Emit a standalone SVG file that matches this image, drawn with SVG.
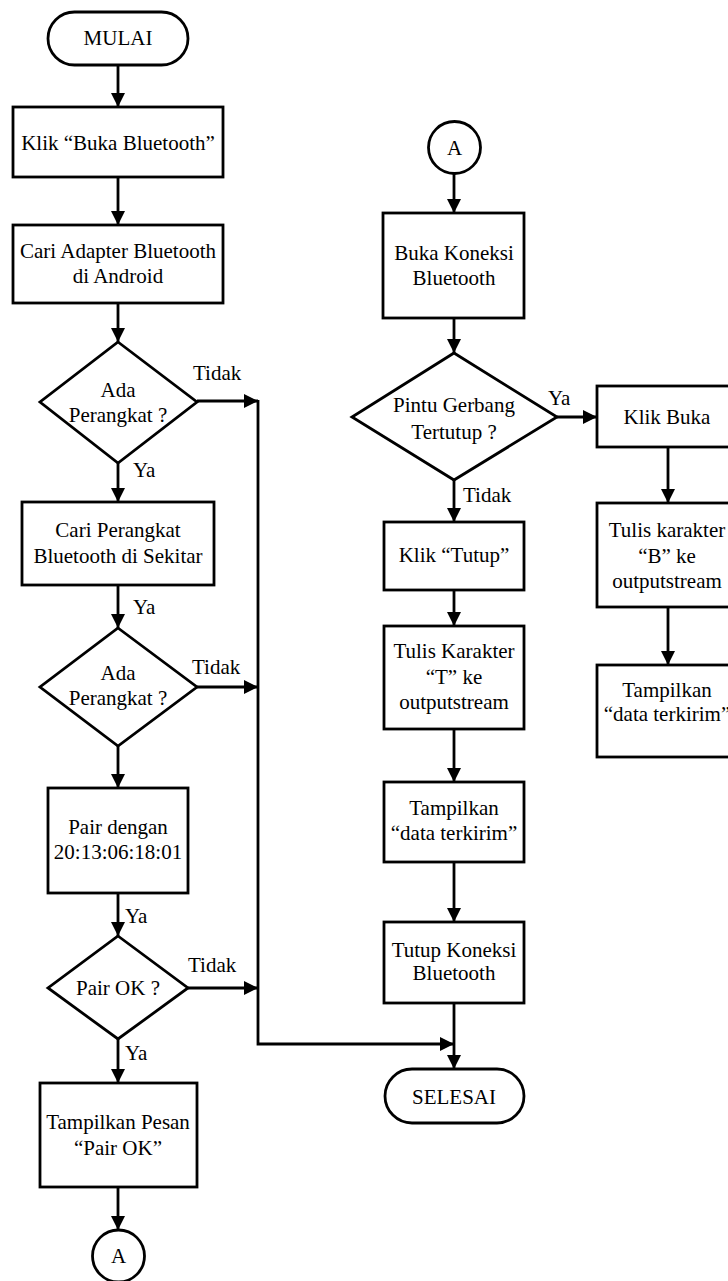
<svg xmlns="http://www.w3.org/2000/svg" width="728" height="1281" viewBox="0 0 728 1281">
<style>
.s{fill:#fff;stroke:#000;stroke-width:2.8}
.c{fill:none;stroke:#000;stroke-width:2.8}
text{font-family:"Liberation Serif","Times New Roman",serif;font-size:21px;fill:#000}
.m{text-anchor:middle}
</style>
<defs>
<marker id="ah" markerWidth="14" markerHeight="14" refX="14" refY="7" orient="auto" markerUnits="userSpaceOnUse">
<path d="M0,0 L14,7 L0,14 z" fill="#000"/>
</marker>
</defs>
<rect width="728" height="1281" fill="#fff"/>
<g id="connectors">
<line class="c" x1="118" y1="65" x2="118" y2="107" marker-end="url(#ah)"/>
<line class="c" x1="118" y1="177" x2="118" y2="225" marker-end="url(#ah)"/>
<line class="c" x1="118" y1="303" x2="118" y2="342" marker-end="url(#ah)"/>
<line class="c" x1="197" y1="401" x2="258" y2="401" marker-end="url(#ah)"/>
<line class="c" x1="118" y1="463" x2="118" y2="502" marker-end="url(#ah)"/>
<line class="c" x1="118" y1="585" x2="118" y2="628" marker-end="url(#ah)"/>
<line class="c" x1="197" y1="687" x2="258" y2="687" marker-end="url(#ah)"/>
<line class="c" x1="118" y1="746" x2="118" y2="788" marker-end="url(#ah)"/>
<line class="c" x1="118" y1="893" x2="118" y2="936" marker-end="url(#ah)"/>
<line class="c" x1="188" y1="988" x2="258" y2="988" marker-end="url(#ah)"/>
<line class="c" x1="118" y1="1039" x2="118" y2="1083" marker-end="url(#ah)"/>
<line class="c" x1="118" y1="1187" x2="118" y2="1230" marker-end="url(#ah)"/>
<polyline class="c" points="258,400 258,1044 454,1044" marker-end="url(#ah)"/>
<line class="c" x1="454" y1="174" x2="454" y2="213" marker-end="url(#ah)"/>
<line class="c" x1="454" y1="318" x2="454" y2="353" marker-end="url(#ah)"/>
<line class="c" x1="557" y1="417" x2="597" y2="417" marker-end="url(#ah)"/>
<line class="c" x1="454" y1="480" x2="454" y2="522" marker-end="url(#ah)"/>
<line class="c" x1="454" y1="590" x2="454" y2="626" marker-end="url(#ah)"/>
<line class="c" x1="454" y1="729" x2="454" y2="782" marker-end="url(#ah)"/>
<line class="c" x1="454" y1="862" x2="454" y2="922" marker-end="url(#ah)"/>
<line class="c" x1="454" y1="1003" x2="454" y2="1069" marker-end="url(#ah)"/>
<line class="c" x1="668" y1="447" x2="668" y2="503" marker-end="url(#ah)"/>
<line class="c" x1="668" y1="607" x2="668" y2="665" marker-end="url(#ah)"/>
<text x="193" y="380">Tidak</text>
<text x="133" y="477">Ya</text>
<text x="133" y="614">Ya</text>
<text x="192" y="674">Tidak</text>
<text x="125" y="923">Ya</text>
<text x="188" y="972">Tidak</text>
<text x="125" y="1060">Ya</text>
<text x="548" y="405">Ya</text>
<text x="463" y="502">Tidak</text>
</g>
<g id="mulai"><rect class="s" x="48" y="12" width="140" height="53" rx="26.5"/><text class="m" x="118" y="45">MULAI</text></g>
<g id="klik-buka-bt"><rect class="s" x="13" y="107" width="210" height="70"/><text class="m" x="118" y="150">Klik “Buka Bluetooth”</text></g>
<g id="cari-adapter"><rect class="s" x="13" y="225" width="210" height="78"/><text class="m" x="118" y="258">Cari Adapter Bluetooth</text><text class="m" x="118" y="283">di Android</text></g>
<g id="ada1"><polygon class="s" points="118,342 197,402 118,463 40,402"/><text class="m" x="118" y="397">Ada</text><text class="m" x="118" y="422">Perangkat ?</text></g>
<g id="cari-perangkat"><rect class="s" x="22" y="502" width="192" height="83"/><text class="m" x="118" y="537">Cari Perangkat</text><text class="m" x="118" y="563">Bluetooth di Sekitar</text></g>
<g id="ada2"><polygon class="s" points="118,628 197,687 118,746 40,687"/><text class="m" x="118" y="680">Ada</text><text class="m" x="118" y="705">Perangkat ?</text></g>
<g id="pair"><rect class="s" x="48" y="788" width="140" height="105"/><text class="m" x="118" y="834">Pair dengan</text><text class="m" x="118" y="859">20:13:06:18:01</text></g>
<g id="pair-ok"><polygon class="s" points="118,936 188,988 118,1039 48,988"/><text class="m" x="118" y="995">Pair OK ?</text></g>
<g id="tampil-pesan"><rect class="s" x="40" y="1083" width="157" height="104"/><text class="m" x="118" y="1129">Tampilkan Pesan</text><text class="m" x="118" y="1155">“Pair OK”</text></g>
<g id="a-out"><circle class="s" cx="118.5" cy="1256" r="26"/><text class="m" x="118.5" y="1263">A</text></g>
<g id="a-in"><circle class="s" cx="454.5" cy="147.5" r="26"/><text class="m" x="454.5" y="155">A</text></g>
<g id="buka-koneksi"><rect class="s" x="383" y="213" width="141" height="105"/><text class="m" x="454" y="260">Buka Koneksi</text><text class="m" x="454" y="285">Bluetooth</text></g>
<g id="pintu"><polygon class="s" points="454,353 557,417 454,480 352,417"/><text class="m" x="454" y="412">Pintu Gerbang</text><text class="m" x="454" y="439">Tertutup ?</text></g>
<g id="klik-tutup"><rect class="s" x="384" y="522" width="140" height="68"/><text class="m" x="454" y="562">Klik “Tutup”</text></g>
<g id="tulis-t"><rect class="s" x="384" y="626" width="140" height="103"/><text class="m" x="454" y="658">Tulis Karakter</text><text class="m" x="454" y="684">“T” ke</text><text class="m" x="454" y="709">outputstream</text></g>
<g id="tampil-t"><rect class="s" x="384" y="782" width="140" height="80"/><text class="m" x="454" y="815">Tampilkan</text><text class="m" x="454" y="840">“data terkirim”</text></g>
<g id="tutup-koneksi"><rect class="s" x="384" y="922" width="140" height="81"/><text class="m" x="454" y="957">Tutup Koneksi</text><text class="m" x="454" y="980">Bluetooth</text></g>
<g id="selesai"><rect class="s" x="385" y="1069" width="139" height="54" rx="27"/><text class="m" x="454" y="1104">SELESAI</text></g>
<g id="klik-buka"><rect class="s" x="597" y="386" width="145" height="61"/><text class="m" x="667" y="424">Klik Buka</text></g>
<g id="tulis-b"><rect class="s" x="597" y="503" width="145" height="104"/><text class="m" x="667" y="537">Tulis karakter</text><text class="m" x="667" y="563">“B” ke</text><text class="m" x="667" y="588">outputstream</text></g>
<g id="tampil-b"><rect class="s" x="597" y="665" width="145" height="92"/><text class="m" x="667" y="697">Tampilkan</text><text class="m" x="667" y="721">“data terkirim”</text></g>
</svg>
